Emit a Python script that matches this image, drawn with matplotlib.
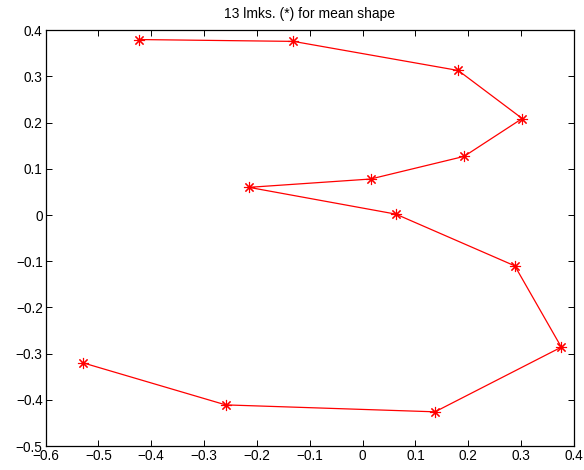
import matplotlib
matplotlib.use("Agg")
import matplotlib.pyplot as plt

plt.rcParams['font.family'] = ['Liberation Sans', 'DejaVu Sans']

x_vals = [-0.424, -0.131, 0.181, 0.302, 0.192, 0.015, -0.215, 0.063, 0.288, 0.376, 0.137, -0.259, -0.529]
y_vals = [0.380, 0.376, 0.313, 0.209, 0.127, 0.078, 0.060, 0.002, -0.110, -0.286, -0.426, -0.411, -0.320]

x_ticks = [-0.6, -0.5, -0.4, -0.3, -0.2, -0.1, 0, 0.1, 0.2, 0.3, 0.4]
y_ticks = [-0.5, -0.4, -0.3, -0.2, -0.1, 0, 0.1, 0.2, 0.3, 0.4]
x_labels = ['\u22120.6', '\u22120.5', '\u22120.4', '\u22120.3', '\u22120.2', '\u22120.1', '0', '0.1', '0.2', '0.3', '0.4']
y_labels = ['\u22120.5', '\u22120.4', '\u22120.3', '\u22120.2', '\u22120.1', '0', '0.1', '0.2', '0.3', '0.4']

fig = plt.figure(figsize=(5.84, 4.70), dpi=100)
W, H = 584, 470
ax = fig.add_axes([45.5 / W, 1 - 446 / H, (574 - 45.5) / W, (446 - 30.3) / H])
ax.plot(x_vals, y_vals, color='red', linewidth=0.9, marker=(8, 2, 0), markersize=8,
        markeredgewidth=0.8)
ax.set_xlim(-0.6, 0.4)
ax.set_ylim(-0.5, 0.4)
ax.set_xticks(x_ticks)
ax.set_xticklabels(x_labels)
ax.set_yticks(y_ticks)
ax.set_yticklabels(y_labels)
ax.tick_params(direction='in', top=True, right=True, length=4.5, width=0.7,
               labelsize=9.8, pad=2)
for s in ax.spines.values():
    s.set_linewidth(0.9)
ax.set_title('13 lmks. (*) for mean shape', fontsize=10, pad=9)
fig.savefig('out.png', dpi=100)
